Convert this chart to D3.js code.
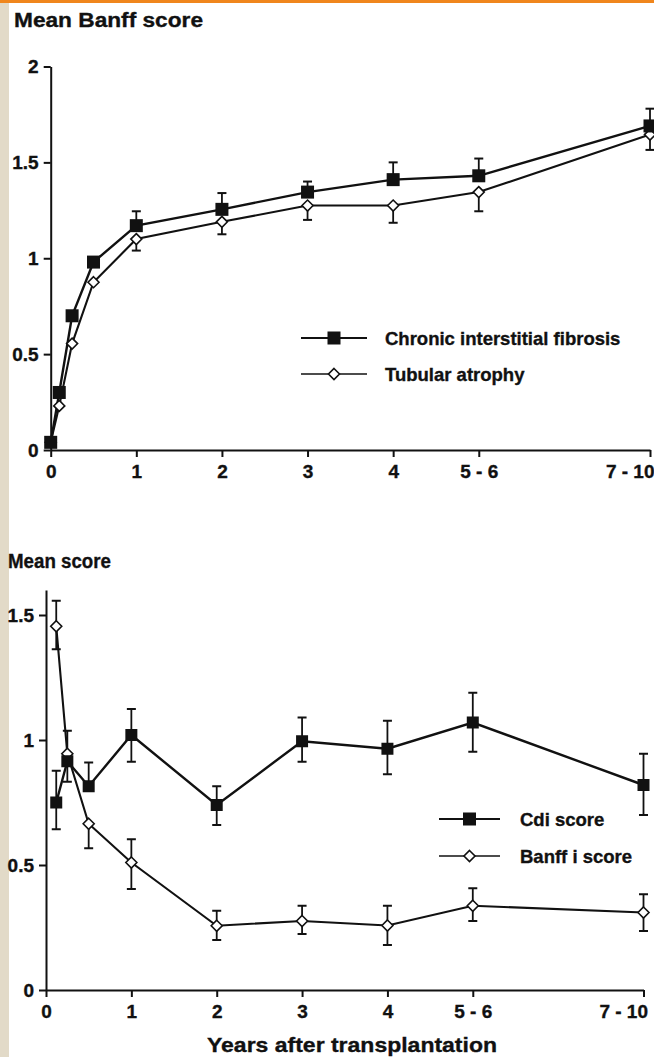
<!DOCTYPE html>
<html>
<head>
<meta charset="utf-8">
<script src="https://cdn.jsdelivr.net/npm/d3@7"></script>
<style>
  body { margin: 0; background: #fff; }
  svg text { font-family: "Liberation Sans", Arial, sans-serif; font-weight: bold; fill: #111; stroke: #111; stroke-width: 0.35; }
  .axis path, .axis line { stroke: #111; stroke-width: 2; }
  .axis text { font-size: 19px; }
</style>
</head>
<body>
<svg id="chart"></svg>
<script>
// x categories (position on a linear 0..7 scale, label)
const xTicks = [0, 1, 2, 3, 4, 5, 7];
const xLabels = ["0", "1", "2", "3", "4", "5 - 6", "7 - 10"];

// top panel: Banff chronic scores
const topX = [0, 0.1, 0.25, 0.5, 1, 2, 3, 4, 5, 7];
const fibrosis   = [0.04, 0.30, 0.70, 0.98, 1.17, 1.255, 1.345, 1.41, 1.43, 1.69];
const fibrosisHi = [null, null, null, null, 1.245, 1.34, 1.40, 1.50, 1.52, 1.78];
const atrophy    = [0.04, 0.23, 0.555, 0.875, 1.10, 1.19, 1.275, 1.275, 1.345, 1.645];
const atrophyLo  = [null, null, null, null, 1.04, 1.125, 1.20, 1.185, 1.245, 1.565];
const topYTicks = [0, 0.5, 1, 1.5, 2];

// bottom panel: Cdi and Banff i
const botX = [0.12, 0.25, 0.5, 1, 2, 3, 4, 5, 7];
const cdi    = [0.75, 0.915, 0.815, 1.02, 0.74, 0.995, 0.965, 1.07, 0.82];
const cdiHi  = [0.877, 1.037, 0.91, 1.124, 0.815, 1.09, 1.077, 1.189, 0.945];
const cdiLo  = [0.643, 0.833, null, 0.913, 0.66, 0.913, 0.863, 0.953, 0.70];
const banffI   = [1.455, 0.945, 0.665, 0.51, 0.257, 0.276, 0.258, 0.337, 0.31];
const banffIHi = [1.557, null, null, 0.603, 0.317, 0.337, 0.337, 0.407, 0.383];
const banffILo = [1.363, null, 0.567, 0.404, 0.20, 0.224, 0.18, 0.276, 0.236];
const botYTicks = [0, 0.5, 1, 1.5];

const W = 654, H = 1057;
const svg = d3.select("#chart").attr("width", W).attr("height", H);

// page decorations
svg.append("rect").attr("x", 0).attr("y", 0).attr("width", W).attr("height", 3).attr("fill", "#f0861c");
svg.append("rect").attr("x", 0).attr("y", 3).attr("width", 9).attr("height", H - 3).attr("fill", "#e2dac8");

function panel(opt) {
  const x = d3.scaleLinear().domain([0, 7]).range([opt.x0, opt.x1]);
  const y = d3.scaleLinear().domain([0, opt.ymax]).range([opt.yBase, opt.yTop]);
  const g = svg.append("g");

  const xa = g.append("g").attr("class", "axis")
    .attr("transform", `translate(0,${opt.yBase})`)
    .call(d3.axisBottom(x).tickValues(xTicks).tickFormat((d, i) => xLabels[i])
      .tickSize(7).tickSizeOuter(0).tickPadding(8));
  // last label sits left of its tick so it stays on the page
  xa.selectAll(".tick text").filter(d => d === 7)
    .attr("text-anchor", "end").attr("x", 4);

  g.append("g").attr("class", "axis")
    .attr("transform", `translate(${opt.x0},0)`)
    .call(d3.axisLeft(y).tickValues(opt.yTicks).tickFormat(d => String(d))
      .tickSize(7).tickSizeOuter(0).tickPadding(5));

  // error bars
  opt.series.forEach(s => {
    s.ys.forEach((v, i) => {
      [s.hi ? s.hi[i] : null, s.lo ? s.lo[i] : null].forEach(e => {
        if (e == null) return;
        const cx = x(s.xs[i]);
        g.append("line").attr("x1", cx).attr("x2", cx)
          .attr("y1", y(v)).attr("y2", y(e))
          .attr("stroke", "#111").attr("stroke-width", 1.8);
        g.append("line").attr("x1", cx - 4.5).attr("x2", cx + 4.5)
          .attr("y1", y(e)).attr("y2", y(e))
          .attr("stroke", "#111").attr("stroke-width", 2);
      });
    });
  });

  const line = d3.line().x(d => x(d[0])).y(d => y(d[1]));
  opt.series.forEach(s => {
    g.append("path").datum(s.xs.map((v, i) => [v, s.ys[i]]))
      .attr("d", line).attr("fill", "none")
      .attr("stroke", "#111").attr("stroke-width", s.filled ? 2.4 : 2.1);
  });

  // markers: diamonds first, squares on top
  opt.series.slice().sort((a, b) => a.filled - b.filled).forEach(s => {
    s.xs.forEach((v, i) => marker(g, x(v), y(s.ys[i]), s.filled, opt.sq));
  });

  // legend
  opt.series.forEach((s, k) => {
    const ly = opt.legY[k];
    g.append("line").attr("x1", opt.legX0).attr("x2", opt.legX1)
      .attr("y1", ly).attr("y2", ly).attr("stroke", "#111").attr("stroke-width", s.filled ? 2 : 1.6);
    marker(g, (opt.legX0 + opt.legX1) / 2, ly, s.filled, 13);
    g.append("text").attr("x", opt.legTx).attr("y", ly + 6.5)
      .attr("font-size", 18.5).text(s.name);
  });
}

function marker(g, cx, cy, filled, sq) {
  if (filled) {
    g.append("rect").attr("x", cx - sq / 2).attr("y", cy - sq / 2)
      .attr("width", sq).attr("height", sq).attr("fill", "#111");
  } else {
    const r = 5.5;
    g.append("path")
      .attr("d", `M${cx},${cy - r}L${cx + r},${cy}L${cx},${cy + r}L${cx - r},${cy}Z`)
      .attr("fill", "#fff").attr("stroke", "#111").attr("stroke-width", 1.6);
  }
}

panel({
  x0: 50.7, x1: 650, yBase: 450, yTop: 66.5, ymax: 2, yTicks: topYTicks, sq: 13,
  series: [
    { name: "Chronic interstitial fibrosis", xs: topX, ys: fibrosis, hi: fibrosisHi, filled: true },
    { name: "Tubular atrophy", xs: topX, ys: atrophy, lo: atrophyLo, filled: false }
  ],
  legX0: 301, legX1: 367, legTx: 385, legY: [338, 374]
});

panel({
  x0: 46, x1: 643.5, yBase: 990, yTop: 590, ymax: 1.6, yTicks: botYTicks, sq: 12,
  series: [
    { name: "Cdi score", xs: botX, ys: cdi, hi: cdiHi, lo: cdiLo, filled: true },
    { name: "Banff i score", xs: botX, ys: banffI, hi: banffIHi, lo: banffILo, filled: false }
  ],
  legX0: 439, legX1: 500, legTx: 520, legY: [819, 856]
});

// titles
svg.append("text").attr("x", 14).attr("y", 27).attr("font-size", 20)
  .attr("textLength", 189).attr("lengthAdjust", "spacingAndGlyphs").text("Mean  Banff  score");
svg.append("text").attr("x", 8).attr("y", 568).attr("font-size", 20)
  .attr("textLength", 103).attr("lengthAdjust", "spacingAndGlyphs").text("Mean  score");
svg.append("text").attr("x", 207).attr("y", 1052).attr("font-size", 21)
  .attr("textLength", 290).attr("lengthAdjust", "spacingAndGlyphs").text("Years  after  transplantation");
</script>
</body>
</html>
